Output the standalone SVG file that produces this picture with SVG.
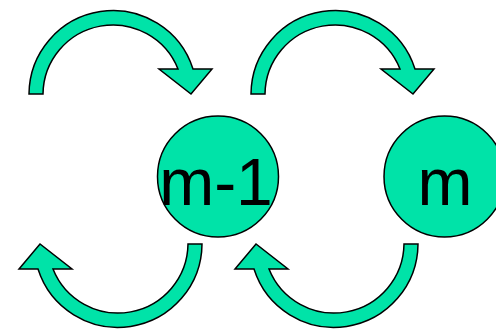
<svg xmlns="http://www.w3.org/2000/svg" width="496" height="330" viewBox="0 0 496 330">
<defs>
<style>
.sh{fill:#00E3A8;stroke:#000;stroke-width:1.5;stroke-linejoin:miter}
.lb{font-family:"Liberation Sans",Arial,sans-serif;font-size:66px;fill:#000}
</style>
<path id="arc" d="M29,94 A84,84 0 0 1 193,69 L212,69 L191,94 L159,69 L178,69 A70,70 0 0 0 43,94 Z"/>
</defs>
<g id="connectors">
<use href="#arc" class="sh"/>
<use href="#arc" class="sh" transform="translate(222,0)"/>
<use href="#arc" class="sh" transform="rotate(180 115.5 169)"/>
<use href="#arc" class="sh" transform="translate(216,0) rotate(180 115.5 169)"/>
</g>
<g id="node-m-1">
<circle class="sh" cx="218" cy="176.5" r="60.5"/>
<text class="lb" x="216" y="205" text-anchor="middle">m-1</text>
</g>
<g id="node-m">
<circle class="sh" cx="444.5" cy="176.5" r="60.5"/>
<text class="lb" x="445" y="205" text-anchor="middle">m</text>
</g>
</svg>
